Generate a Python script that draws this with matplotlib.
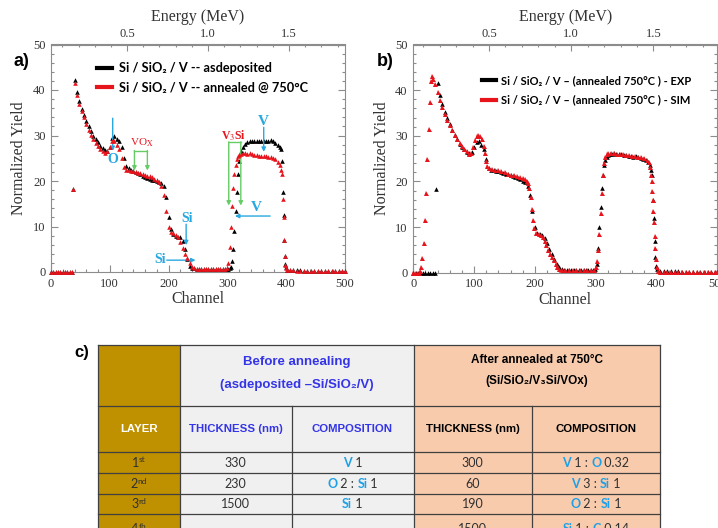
import matplotlib
matplotlib.use('Agg')
import matplotlib.pyplot as plt
from matplotlib.lines import Line2D
from matplotlib.patches import Rectangle
from matplotlib.ticker import MultipleLocator

plt.rcParams['mathtext.fontset'] = 'stix'
plt.rcParams['font.family'] = ['Liberation Serif', 'DejaVu Serif']

# ---------------- data: panel a (asdeposited vs annealed) ----------------
ch_a = [0, 4, 8, 12, 16, 20, 24, 28, 32, 36, 38,
        40, 44, 48, 52, 56, 60, 64, 68, 72, 76, 80, 84, 88, 92, 96,
        100, 104, 108, 112, 116, 120, 124, 128, 132, 136, 140, 144, 148, 152, 156,
        160, 164, 168, 172, 176, 180, 184, 188, 192, 196, 200, 204, 208, 212, 216,
        220, 224, 228, 232, 236, 240, 244, 248, 252, 256, 260, 264, 268, 272, 276,
        280, 284, 288, 292, 296, 299, 302, 304, 306, 308, 310, 312, 314, 316, 318,
        320, 323, 326, 330, 334, 338, 342, 346, 350, 354, 358, 362, 366, 370, 374,
        378, 382, 386, 389, 391, 393, 395, 396, 397, 398, 399, 400, 402,
        406, 412, 418, 424, 430, 436, 442, 448, 454, 460, 466, 472, 478, 484, 490, 496, 500]

asdep = [0, 0, 0, 0, 0, 0, 0, 0, 0, 0, 18.3,
         42.3, 39.5, 37.5, 35.8, 34.5, 33.2, 32.0, 31.0, 30.0, 29.2, 28.5, 27.8, 27.2, 26.8, 26.5,
         27.5, 29.5, 29.8, 29.3, 28.8, 27.5, 25.0, 23.2, 22.8, 22.5, 22.3, 22.0, 21.8, 21.5, 21.0,
         20.8, 20.6, 20.5, 20.3, 20.2, 20.0, 19.8, 19.5, 19.0, 16.5, 12.0, 9.5, 8.3, 8.0, 7.8,
         7.8, 6.8, 5.0, 2.8, 1.3, 0.9, 0.8, 0.7, 0.6, 0.6, 0.6, 0.55, 0.6, 0.6, 0.55,
         0.6, 0.6, 0.55, 0.6, 0.6, 0.6, 0.6, 0.8, 1.2, 2.5, 5.0, 9.0, 13.5, 17.5, 21.5,
         24.5, 26.5, 27.5, 28.2, 28.5, 28.7, 28.8, 28.9, 28.8, 28.9, 28.8, 28.7, 28.9, 28.8, 29.0,
         28.7, 28.4, 28.0, 27.5, 27.0, 24.5, 17.5, 12.5, 7.0, 3.5, 1.8, 1.0, 0.5,
         0.4, 0.4, 0.35, 0.35, 0.3, 0.3, 0.3, 0.3, 0.25, 0.25, 0.25, 0.25, 0.2, 0.2, 0.2, 0.2, 0.2]

annealed = [0, 0, 0, 0, 0, 0, 0, 0, 0, 0, 18.3,
            41.5, 39.0, 37.0, 35.3, 34.0, 32.5, 31.3, 30.2, 29.2, 28.3, 27.6, 27.0, 26.5, 26.2, 26.5,
            27.5, 28.7, 28.8, 28.0, 27.0, 25.0, 23.0, 22.5, 22.5, 22.3, 22.2, 22.0, 21.8, 21.7, 21.6,
            21.4, 21.2, 21.0, 20.8, 20.5, 20.2, 19.8, 19.0, 17.0, 13.5, 10.0, 8.8, 8.5, 8.2, 7.6,
            6.5, 5.2, 4.0, 3.0, 2.0, 1.2, 0.8, 0.7, 0.6, 0.6, 0.6, 0.6, 0.55, 0.6, 0.6,
            0.6, 0.55, 0.6, 0.6, 0.6, 0.8, 2.0, 5.5, 10.0, 14.5, 18.5, 21.5, 23.5, 24.8, 25.4,
            25.7, 26.0, 26.1, 26.2, 26.0, 26.1, 25.9, 25.8, 25.8, 25.6, 25.6, 25.4, 25.5, 25.3, 25.2,
            25.0, 24.8, 24.2, 23.5, 22.5, 21.5, 16.0, 12.0, 7.0, 3.5, 1.5, 0.8, 0.4,
            0.35, 0.35, 0.3, 0.3, 0.3, 0.3, 0.25, 0.25, 0.25, 0.25, 0.2, 0.2, 0.2, 0.2, 0.2, 0.2, 0.2]

# ---------------- data: panel b (annealed EXP vs SIM) ----------------
ch_sim = [0, 3, 6, 9, 11, 13, 15, 17, 19, 21, 23, 25, 27, 29, 31, 33, 36,
          40, 44, 48, 52, 56, 60, 64, 68, 72, 76, 80, 84, 88, 92, 95, 98,
          101, 104, 107, 110, 113, 116, 118, 120, 122, 125, 130, 135, 140, 145, 150, 155,
          160, 165, 170, 175, 180, 184, 187, 189, 191, 193, 195, 197, 199, 202, 206,
          210, 213, 216, 219, 222, 225, 228, 231, 234, 237, 240, 244, 250, 256, 262,
          268, 274, 280, 286, 292, 297, 300, 302, 304, 306, 308, 310, 312, 314, 316, 318,
          321, 325, 330, 335, 340, 345, 350, 355, 360, 365, 370, 375, 380, 384, 387, 389,
          391, 392, 393, 394, 395, 396, 397, 398, 399, 400, 402,
          406, 412, 418, 424, 430, 436, 442, 448, 454, 460, 466, 472, 478, 484, 490, 496, 500]

sim = [0, 0, 0, 0, 0.3, 1.2, 3.2, 6.5, 11.5, 17.5, 25.0, 31.5, 37.5, 42.0, 43.0, 42.5, 41.3,
       39.5, 37.8, 36.2, 34.8, 33.5, 32.3, 31.2, 30.2, 29.3, 28.5, 27.8, 27.2, 26.6, 26.1, 26.3, 27.5,
       29.0, 29.9, 30.2, 30.0, 29.2, 27.8, 26.2, 24.5, 23.4, 23.0, 22.8, 22.6, 22.4, 22.2, 22.0, 21.7,
       21.5, 21.3, 21.1, 20.9, 20.8, 20.6, 20.2, 19.6, 18.5, 16.5, 14.0, 11.5, 9.8, 8.8, 8.5,
       8.2, 7.8, 7.0, 6.0, 5.0, 4.2, 3.5, 2.8, 2.0, 1.3, 0.9, 0.7, 0.7, 0.7, 0.65,
       0.65, 0.6, 0.6, 0.6, 0.6, 0.7, 1.2, 2.5, 5.0, 8.5, 13.0, 17.5, 21.5, 24.0, 25.3, 25.9,
       26.2, 26.3, 26.2, 26.1, 26.0, 25.9, 25.8, 25.7, 25.6, 25.5, 25.4, 25.3, 25.1, 24.8, 24.2, 23.2,
       21.5, 20.0, 18.0, 16.0, 13.5, 11.0, 8.0, 5.5, 3.0, 1.2, 0.4,
       0.25, 0.25, 0.25, 0.25, 0.25, 0.25, 0.25, 0.25, 0.25, 0.25, 0.25, 0.25, 0.25, 0.25, 0.25, 0.25, 0.25]

legend_a = ['Si / SiO\u2082 / V -- asdeposited', 'Si / SiO\u2082 / V -- annealed @ 750\u00b0C']
legend_b = ['Si / SiO\u2082 / V \u2013 (annealed 750\u00b0C ) - EXP',
            'Si / SiO\u2082 / V \u2013 (annealed 750\u00b0C ) - SIM']

# ---------------- data: table ----------------
hdr_before = ['Before annealing', '(asdeposited \u2013Si/SiO\u2082/V)']
hdr_after = ['After annealed at 750\u00b0C', '(Si/SiO\u2082/V\u2083Si/VOx)']
col_heads = ['LAYER', 'THICKNESS (nm)', 'COMPOSITION', 'THICKNESS (nm)', 'COMPOSITION']
layer_num = ['1', '2', '3', '4']
layer_sup = ['st', 'nd', 'rd', 'th']
before_thick = ['330', '230', '1500', '']
after_thick = ['300', '60', '190', '1500']
before_comp = [[('V', 1), (' 1', 0)],
               [('O', 1), (' 2 : ', 0), ('Si', 1), (' 1', 0)],
               [('Si', 1), (' 1', 0)],
               []]
after_comp = [[('V', 1), (' 1 : ', 0), ('O', 1), (' 0.32', 0)],
              [('V', 1), (' 3 : ', 0), ('Si', 1), (' 1', 0)],
              [('O', 1), (' 2 : ', 0), ('Si', 1), (' 1', 0)],
              [('Si', 1), (' 1 : ', 0), ('C', 1), (' 0.14', 0)]]

# ---------------- figure ----------------
W, H = 718, 528
fig = plt.figure(figsize=(W / 100, H / 100), dpi=100)


def px_axes(l, t, r, b):
    return fig.add_axes([l / W, 1 - b / H, (r - l) / W, (b - t) / H])


SPINE = '#8c8c8c'
LBL = '#333333'
BLUE = '#29a8e0'
GREEN = '#66cc66'
RED = '#e8141c'
LEGFONT = ['Lato', 'DejaVu Sans']


def style(ax, ch2e, e2ch):
    ax.set_xlim(0, 500)
    ax.set_ylim(0, 50)
    ax.xaxis.set_major_locator(MultipleLocator(100))
    ax.xaxis.set_minor_locator(MultipleLocator(20))
    ax.yaxis.set_major_locator(MultipleLocator(10))
    ax.yaxis.set_minor_locator(MultipleLocator(2))
    ax.tick_params(which='both', direction='in', top=False, right=True,
                   color=SPINE, labelcolor=LBL, labelsize=9, width=0.8)
    ax.tick_params(which='major', length=5, pad=4)
    ax.tick_params(which='minor', length=2.5)
    for s in ax.spines.values():
        s.set_color(SPINE)
        s.set_linewidth(0.8)
    ax.set_xlabel('Channel', fontsize=11.5, color=LBL, labelpad=1)
    ax.set_ylabel('Normalized Yield', fontsize=11.5, color=LBL, labelpad=4)
    sec = ax.secondary_xaxis('top', functions=(ch2e, e2ch))
    sec.set_xticks([0.5, 1.0, 1.5])
    sec.set_xticklabels(['0.5', '1.0', '1.5'])
    sec.xaxis.set_minor_locator(MultipleLocator(0.1))
    sec.tick_params(which='both', direction='in', color=SPINE, labelcolor=LBL,
                    labelsize=9, width=0.8)
    sec.tick_params(which='major', length=5, pad=3)
    sec.tick_params(which='minor', length=2.5)
    sec.spines['top'].set_color(SPINE)
    sec.set_xlabel('Energy (MeV)', fontsize=11.5, color=LBL, labelpad=5)
    return sec


# ---- panel a ----
axa = px_axes(51.0, 44.5, 344.8, 272.0)
style(axa, lambda c: 0.030 + 0.00363 * c, lambda e: (e - 0.030) / 0.00363)
axa.plot(ch_a, asdep, '^', ms=3.3, mew=0, color='black', clip_on=False, zorder=3)
axa.plot(ch_a, annealed, '^', ms=3.3, mew=0, color=RED, clip_on=False, zorder=4)
hand = [Line2D([0], [0], color='black', lw=3), Line2D([0], [0], color=RED, lw=3)]
axa.legend(hand, legend_a, loc='upper left', bbox_to_anchor=(0.13, 0.955), frameon=False,
           handlelength=1.2, handletextpad=0.5, labelspacing=0.55, borderaxespad=0.2,
           prop=dict(family=LEGFONT, weight='bold', size=9.2))

tk = dict(ha='center', va='center', fontweight='bold')
arr = lambda col: dict(arrowstyle='-|>', color=col, lw=1.0, mutation_scale=6, shrinkA=0, shrinkB=0)
# O
axa.annotate('', xy=(105, 26.6), xytext=(105, 33.8), arrowprops=arr(BLUE))
axa.text(105, 24.7, 'O', color=BLUE, fontsize=10, **tk)
# VOx
axa.text(154, 28.3, r'VO$_{\mathrm{X}}$', color=RED, fontsize=8, ha='center', va='center')
axa.plot([142, 164], [26.7, 26.7], color=GREEN, lw=1.0)
axa.annotate('', xy=(142, 22.3), xytext=(142, 26.7), arrowprops=arr(GREEN))
axa.annotate('', xy=(164, 22.3), xytext=(164, 26.7), arrowprops=arr(GREEN))
# V3Si
axa.text(310, 30.0, r'V$_3$Si', color=RED, fontsize=8.5, **tk)
axa.plot([302.5, 323], [28.6, 28.6], color=GREEN, lw=1.0)
axa.annotate('', xy=(302.5, 14.6), xytext=(302.5, 28.6), arrowprops=arr(GREEN))
axa.annotate('', xy=(323, 14.6), xytext=(323, 28.6), arrowprops=arr(GREEN))
# V (top)
axa.text(362, 33.0, 'V', color=BLUE, fontsize=11, **tk)
axa.annotate('', xy=(362, 26.4), xytext=(362, 31.8), arrowprops=arr(BLUE))
# V (left arrow)
axa.text(349, 14.2, 'V', color=BLUE, fontsize=11, **tk)
axa.annotate('', xy=(313, 12.3), xytext=(373, 12.3), arrowprops=arr(BLUE))
# Si (down)
axa.text(231, 11.8, 'Si', color=BLUE, fontsize=10, **tk)
axa.annotate('', xy=(230, 5.9), xytext=(230, 10.5), arrowprops=arr(BLUE))
# Si (right)
axa.text(186, 2.8, 'Si', color=BLUE, fontsize=10, **tk)
axa.annotate('', xy=(246, 2.6), xytext=(197, 2.6), arrowprops=arr(BLUE))

# ---- panel b ----
axb = px_axes(413.3, 44.5, 717.3, 272.7)
style(axb, lambda c: 0.039 + 0.0037 * c, lambda e: (e - 0.039) / 0.0037)
axb.plot(ch_a, annealed, '^', ms=3.3, mew=0, color='black', clip_on=False, zorder=3)
axb.plot(ch_sim, sim, '^', ms=3.6, mew=0, color=RED, clip_on=False, zorder=4)
axb.legend(hand, legend_b, loc='upper left', bbox_to_anchor=(0.205, 0.895), frameon=False,
           handlelength=1.2, handletextpad=0.5, labelspacing=0.75, borderaxespad=0.2,
           prop=dict(family=LEGFONT, weight='bold', size=8))

# panel letters
fig.text(14 / W, 1 - 61 / H, 'a)', fontsize=13, fontweight='bold', family='Liberation Sans', va='center')
fig.text(377 / W, 1 - 61 / H, 'b)', fontsize=13, fontweight='bold', family='Liberation Sans', va='center')
fig.text(74 / W, 1 - 352 / H, 'c)', fontsize=12, fontweight='bold', family='Liberation Sans', va='center')

# ---- table (c) ----
axt = fig.add_axes([0, 0, 1, 1])
axt.set_xlim(0, W)
axt.set_ylim(H, 0)
axt.axis('off')

xs = [98, 179.5, 291.5, 413.5, 531.5, 660]
ys = [345, 405.5, 451.5, 472.5, 493.5, 513.5, 545]
GOLD = '#bf9000'
GRAY = '#f0f0f0'
PEACH = '#f8cbad'
LINE = '#404040'
HBLUE = '#3434e8'
EBLUE = '#1ea0e6'
TXT = '#303030'
SANS = ['Liberation Sans', 'DejaVu Sans']
BODY = ['Lato', 'DejaVu Sans']

axt.add_patch(Rectangle((xs[0], ys[0]), xs[1] - xs[0], ys[-1] - ys[0], color=GOLD, lw=0))
axt.add_patch(Rectangle((xs[1], ys[0]), xs[3] - xs[1], ys[-1] - ys[0], color=GRAY, lw=0))
axt.add_patch(Rectangle((xs[3], ys[0]), xs[5] - xs[3], ys[-1] - ys[0], color=PEACH, lw=0))
for y in ys[:-1]:
    axt.plot([xs[0], xs[5]], [y, y], color=LINE, lw=0.9)
for x in [xs[0], xs[1], xs[3], xs[5]]:
    axt.plot([x, x], [ys[0], ys[-1]], color=LINE, lw=0.9)
for x in [xs[2], xs[4]]:
    axt.plot([x, x], [ys[1], ys[-1]], color=LINE, lw=0.9)

cb = (xs[1] + xs[3]) / 2
ca = (xs[3] + xs[5]) / 2
axt.text(cb, 362, hdr_before[0], color=HBLUE, fontsize=9.5, fontweight='bold', family=SANS, ha='center', va='center')
axt.text(cb, 385, hdr_before[1], color=HBLUE, fontsize=9.5, fontweight='bold', family=SANS, ha='center', va='center')
axt.text(ca, 360, hdr_after[0], color='black', fontsize=8.5, fontweight='bold', family=SANS, ha='center', va='center')
axt.text(ca, 381, hdr_after[1], color='black', fontsize=8.5, fontweight='bold', family=SANS, ha='center', va='center')

row2_y = (ys[1] + ys[2]) / 2
head_cols = ['white', HBLUE, HBLUE, 'black', 'black']
for i, txt in enumerate(col_heads):
    axt.text((xs[i] + xs[i + 1]) / 2, row2_y, txt, color=head_cols[i], fontsize=8.2,
             fontweight='bold', family=SANS, ha='center', va='center')

renderer = fig.canvas.get_renderer()


def rich(xc, yc, pieces):
    arts = []
    for s, kind in pieces:
        t = axt.text(0, yc, s, color=EBLUE if kind else TXT, fontsize=9,
                     fontweight='bold' if kind else 'normal', family=BODY,
                     ha='left', va='center')
        arts.append(t)
    widths = [a.get_window_extent(renderer).width for a in arts]
    x = xc - sum(widths) / 2
    for a, w in zip(arts, widths):
        a.set_x(x)
        x += w


for r in range(4):
    yc = (ys[r + 2] + ys[r + 3]) / 2 + (1 if r < 3 else 0)
    t1 = axt.text(0, yc, layer_num[r], color=TXT, fontsize=9, family=BODY, ha='left', va='center')
    t2 = axt.text(0, yc - 3, layer_sup[r], color=TXT, fontsize=6, family=BODY, ha='left', va='center')
    w1 = t1.get_window_extent(renderer).width
    w2 = t2.get_window_extent(renderer).width
    x0 = (xs[0] + xs[1]) / 2 - (w1 + w2) / 2
    t1.set_x(x0)
    t2.set_x(x0 + w1)
    axt.text((xs[1] + xs[2]) / 2, yc, before_thick[r], color=TXT, fontsize=9, family=BODY, ha='center', va='center')
    axt.text((xs[3] + xs[4]) / 2, yc, after_thick[r], color=TXT, fontsize=9, family=BODY, ha='center', va='center')
    if before_comp[r]:
        rich((xs[2] + xs[3]) / 2, yc, before_comp[r])
    rich((xs[4] + xs[5]) / 2, yc, after_comp[r])

fig.savefig('out.png', dpi=100)
